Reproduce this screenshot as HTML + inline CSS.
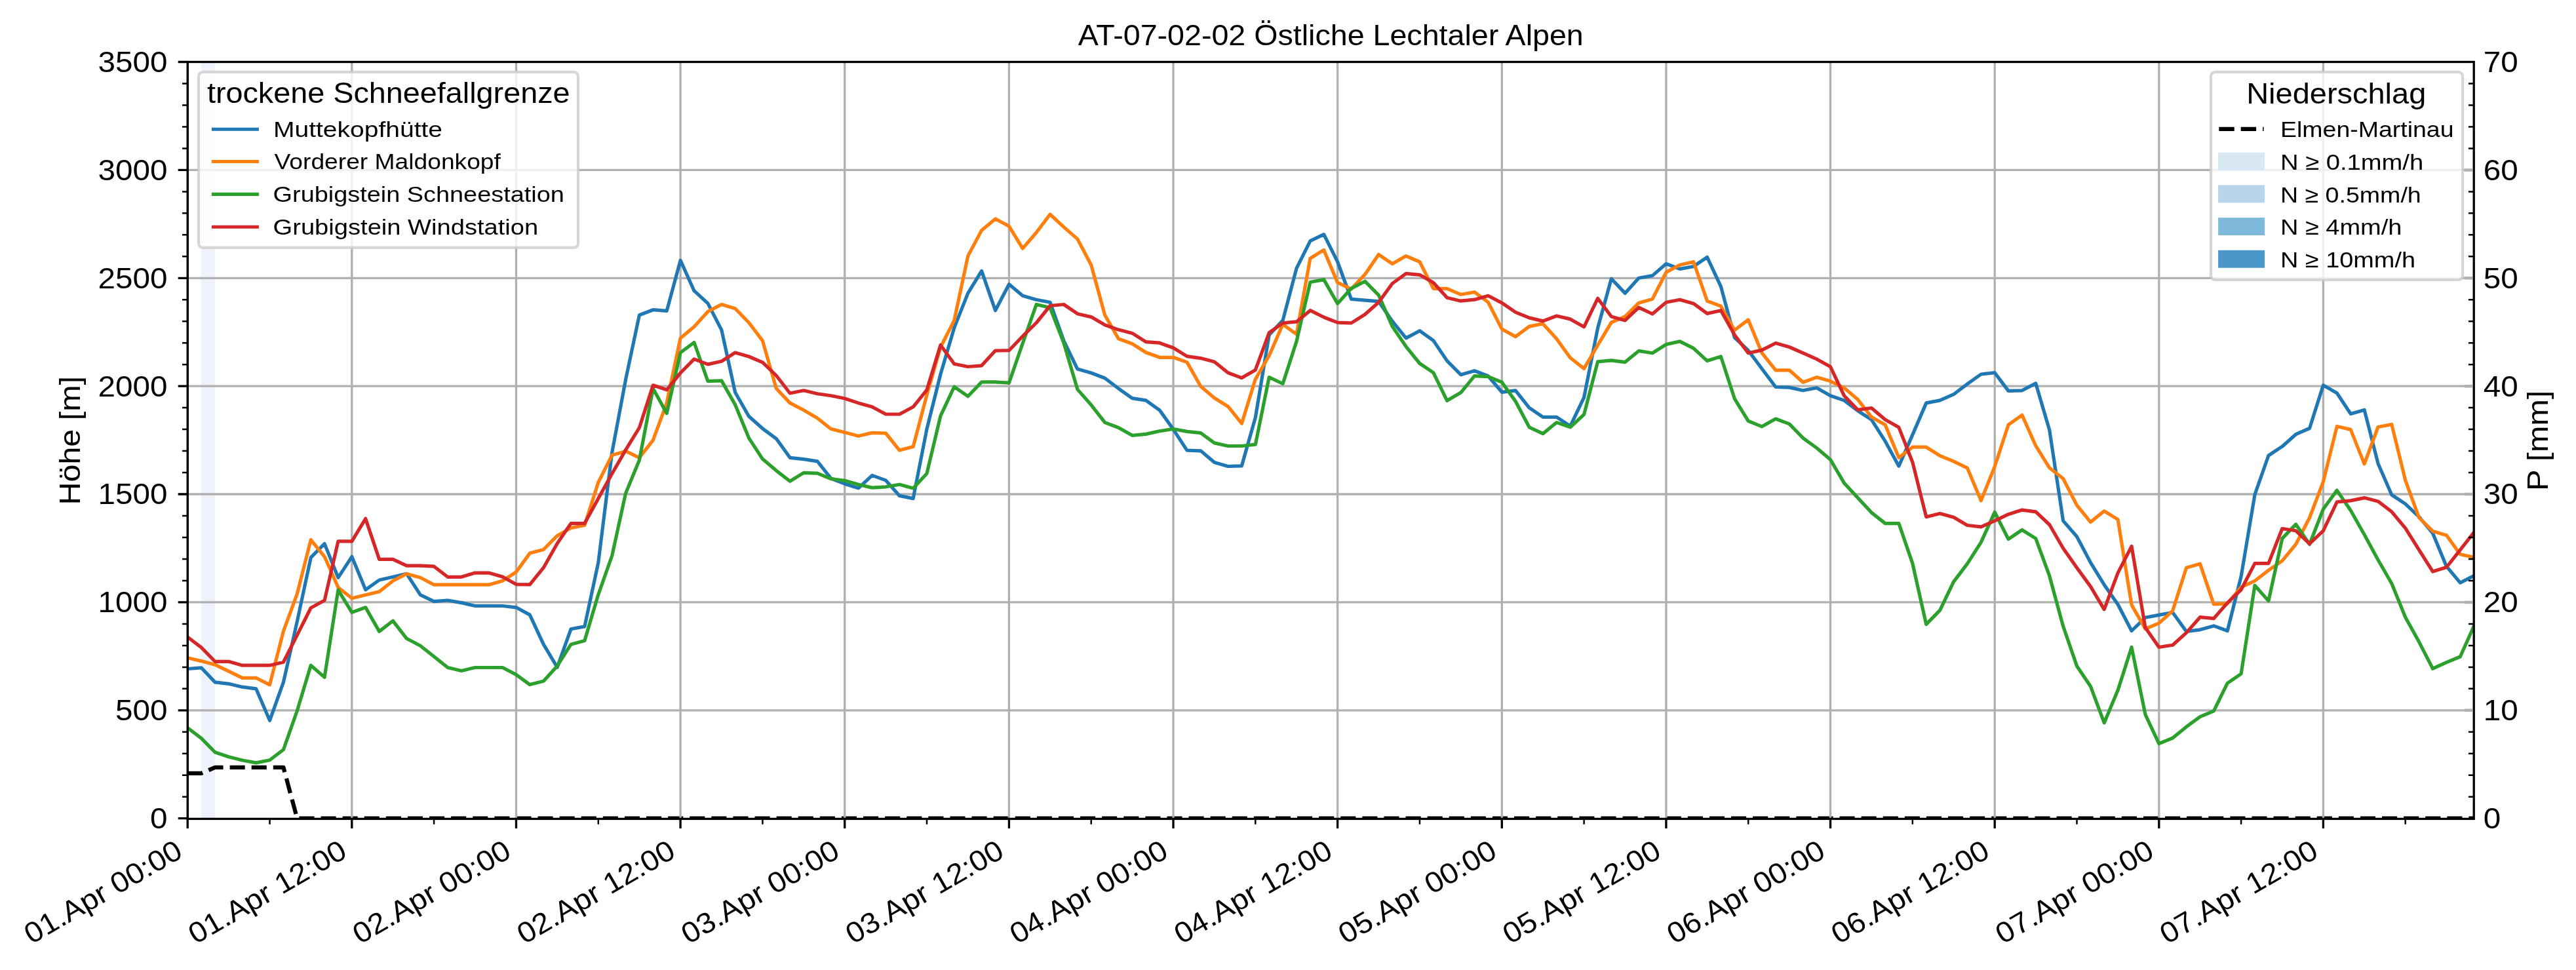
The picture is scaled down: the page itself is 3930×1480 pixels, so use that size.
<!DOCTYPE html><html><head><meta charset="utf-8"><style>html,body{margin:0;padding:0;background:#fff;overflow:hidden}svg{display:block;will-change:transform}text{font-family:"Liberation Sans", sans-serif;fill:#000}</style></head><body>
<svg width="3930" height="1480" viewBox="0 0 3930 1480">
<defs><clipPath id="ax"><rect x="286.3" y="94.5" width="3487.9" height="1154.2"/></clipPath></defs>
<rect x="0" y="0" width="3930" height="1480" fill="#fff"/>
<rect x="307.1" y="94.5" width="20.9" height="1154.2" fill="#eef3fb"/>
<path d="M286.2,1179.8 L307.1,1179.8 L328.0,1170.9 L348.9,1170.9 L369.7,1170.9 L390.6,1170.9 L411.5,1170.9 L432.4,1170.9 L453.3,1248.7 L474.2,1248.7 L495.1,1248.7 L515.9,1248.7 L536.8,1248.7 L557.7,1248.7 L578.6,1248.7 L599.5,1248.7 L620.4,1248.7 L641.3,1248.7 L662.1,1248.7 L683.0,1248.7 L703.9,1248.7 L724.8,1248.7 L745.7,1248.7 L766.6,1248.7 L787.5,1248.7 L808.3,1248.7 L829.2,1248.7 L850.1,1248.7 L871.0,1248.7 L891.9,1248.7 L912.8,1248.7 L933.7,1248.7 L954.6,1248.7 L975.4,1248.7 L996.3,1248.7 L1017.2,1248.7 L1038.1,1248.7 L1059.0,1248.7 L1079.9,1248.7 L1100.8,1248.7 L1121.6,1248.7 L1142.5,1248.7 L1163.4,1248.7 L1184.3,1248.7 L1205.2,1248.7 L1226.1,1248.7 L1247.0,1248.7 L1267.8,1248.7 L1288.7,1248.7 L1309.6,1248.7 L1330.5,1248.7 L1351.4,1248.7 L1372.3,1248.7 L1393.2,1248.7 L1414.0,1248.7 L1434.9,1248.7 L1455.8,1248.7 L1476.7,1248.7 L1497.6,1248.7 L1518.5,1248.7 L1539.4,1248.7 L1560.2,1248.7 L1581.1,1248.7 L1602.0,1248.7 L1622.9,1248.7 L1643.8,1248.7 L1664.7,1248.7 L1685.6,1248.7 L1706.4,1248.7 L1727.3,1248.7 L1748.2,1248.7 L1769.1,1248.7 L1790.0,1248.7 L1810.9,1248.7 L1831.8,1248.7 L1852.7,1248.7 L1873.5,1248.7 L1894.4,1248.7 L1915.3,1248.7 L1936.2,1248.7 L1957.1,1248.7 L1978.0,1248.7 L1998.9,1248.7 L2019.7,1248.7 L2040.6,1248.7 L2061.5,1248.7 L2082.4,1248.7 L2103.3,1248.7 L2124.2,1248.7 L2145.1,1248.7 L2165.9,1248.7 L2186.8,1248.7 L2207.7,1248.7 L2228.6,1248.7 L2249.5,1248.7 L2270.4,1248.7 L2291.3,1248.7 L2312.1,1248.7 L2333.0,1248.7 L2353.9,1248.7 L2374.8,1248.7 L2395.7,1248.7 L2416.6,1248.7 L2437.5,1248.7 L2458.3,1248.7 L2479.2,1248.7 L2500.1,1248.7 L2521.0,1248.7 L2541.9,1248.7 L2562.8,1248.7 L2583.7,1248.7 L2604.5,1248.7 L2625.4,1248.7 L2646.3,1248.7 L2667.2,1248.7 L2688.1,1248.7 L2709.0,1248.7 L2729.9,1248.7 L2750.7,1248.7 L2771.6,1248.7 L2792.5,1248.7 L2813.4,1248.7 L2834.3,1248.7 L2855.2,1248.7 L2876.1,1248.7 L2896.9,1248.7 L2917.8,1248.7 L2938.7,1248.7 L2959.6,1248.7 L2980.5,1248.7 L3001.4,1248.7 L3022.3,1248.7 L3043.2,1248.7 L3064.0,1248.7 L3084.9,1248.7 L3105.8,1248.7 L3126.7,1248.7 L3147.6,1248.7 L3168.5,1248.7 L3189.4,1248.7 L3210.2,1248.7 L3231.1,1248.7 L3252.0,1248.7 L3272.9,1248.7 L3293.8,1248.7 L3314.7,1248.7 L3335.6,1248.7 L3356.4,1248.7 L3377.3,1248.7 L3398.2,1248.7 L3419.1,1248.7 L3440.0,1248.7 L3460.9,1248.7 L3481.8,1248.7 L3502.6,1248.7 L3523.5,1248.7 L3544.4,1248.7 L3565.3,1248.7 L3586.2,1248.7 L3607.1,1248.7 L3628.0,1248.7 L3648.8,1248.7 L3669.7,1248.7 L3690.6,1248.7 L3711.5,1248.7 L3732.4,1248.7 L3753.3,1248.7 L3774.2,1248.7" stroke="#000" stroke-width="6.25" fill="none" stroke-dasharray="23.1 10" stroke-linejoin="round" clip-path="url(#ax)"/>
<path d="M286.2 94.5V1248.7M536.8 94.5V1248.7M787.5 94.5V1248.7M1038.1 94.5V1248.7M1288.7 94.5V1248.7M1539.4 94.5V1248.7M1790.0 94.5V1248.7M2040.6 94.5V1248.7M2291.3 94.5V1248.7M2541.9 94.5V1248.7M2792.5 94.5V1248.7M3043.2 94.5V1248.7M3293.8 94.5V1248.7M3544.4 94.5V1248.7M286.3 1083.8H3774.2M286.3 918.9H3774.2M286.3 754.0H3774.2M286.3 589.2H3774.2M286.3 424.3H3774.2M286.3 259.4H3774.2" stroke="#b0b0b0" stroke-width="3.33" fill="none"/>
<path d="M286.2,1020.5 L307.1,1018.8 L328.0,1040.9 L348.9,1043.3 L369.7,1048.2 L390.6,1050.8 L411.5,1099.3 L432.4,1040.9 L453.3,948.3 L474.2,850.7 L495.1,829.6 L515.9,881.3 L536.8,849.3 L557.7,899.8 L578.6,885.0 L599.5,880.3 L620.4,875.4 L641.3,907.7 L662.1,917.6 L683.0,916.0 L703.9,919.6 L724.8,924.5 L745.7,924.5 L766.6,924.5 L787.5,926.8 L808.3,938.1 L829.2,983.2 L850.1,1018.2 L871.0,959.8 L891.9,955.9 L912.8,858.3 L933.7,690.4 L954.6,578.9 L975.4,480.7 L996.3,472.7 L1017.2,474.4 L1038.1,397.2 L1059.0,443.7 L1079.9,462.9 L1100.8,503.4 L1121.6,598.7 L1142.5,635.3 L1163.4,653.8 L1184.3,669.3 L1205.2,698.3 L1226.1,700.6 L1247.0,703.9 L1267.8,730.0 L1288.7,738.2 L1309.6,744.8 L1330.5,725.4 L1351.4,732.9 L1372.3,756.4 L1393.2,760.6 L1414.0,654.5 L1434.9,571.0 L1455.8,500.1 L1476.7,447.4 L1497.6,413.4 L1518.5,473.7 L1539.4,433.8 L1560.2,451.3 L1581.1,457.2 L1602.0,461.2 L1622.9,519.9 L1643.8,563.1 L1664.7,569.0 L1685.6,577.0 L1706.4,592.8 L1727.3,607.6 L1748.2,610.9 L1769.1,625.8 L1790.0,655.1 L1810.9,687.1 L1831.8,687.8 L1852.7,705.6 L1873.5,711.5 L1894.4,710.8 L1915.3,637.0 L1936.2,511.0 L1957.1,488.9 L1978.0,409.4 L1998.9,367.6 L2019.7,357.7 L2040.6,399.5 L2061.5,456.3 L2082.4,458.2 L2103.3,459.9 L2124.2,490.2 L2145.1,515.9 L2165.9,504.7 L2186.8,519.6 L2207.7,550.6 L2228.6,571.7 L2249.5,565.7 L2270.4,573.7 L2291.3,598.4 L2312.1,595.8 L2333.0,622.1 L2353.9,636.3 L2374.8,636.3 L2395.7,650.2 L2416.6,606.3 L2437.5,500.8 L2458.3,425.3 L2479.2,447.4 L2500.1,424.3 L2521.0,420.6 L2541.9,402.5 L2562.8,410.4 L2583.7,406.5 L2604.5,392.3 L2625.4,437.1 L2646.3,515.0 L2667.2,534.7 L2688.1,562.8 L2709.0,590.5 L2729.9,591.1 L2750.7,595.8 L2771.6,591.8 L2792.5,603.7 L2813.4,610.9 L2834.3,626.8 L2855.2,640.3 L2876.1,673.2 L2896.9,711.2 L2917.8,663.4 L2938.7,614.9 L2959.6,610.9 L2980.5,601.7 L3001.4,585.9 L3022.3,571.0 L3043.2,568.7 L3064.0,596.4 L3084.9,595.8 L3105.8,584.9 L3126.7,656.1 L3147.6,794.6 L3168.5,818.7 L3189.4,858.3 L3210.2,892.2 L3231.1,922.2 L3252.0,962.5 L3272.9,942.3 L3293.8,938.4 L3314.7,934.4 L3335.6,963.4 L3356.4,960.8 L3377.3,954.9 L3398.2,962.5 L3419.1,879.4 L3440.0,754.7 L3460.9,695.0 L3481.8,681.2 L3502.6,662.7 L3523.5,653.5 L3544.4,587.8 L3565.3,599.7 L3586.2,631.4 L3607.1,625.4 L3628.0,707.2 L3648.8,755.0 L3669.7,768.9 L3690.6,788.7 L3711.5,813.7 L3732.4,864.2 L3753.3,889.2 L3774.2,878.4" stroke="#1f77b4" stroke-width="5.2" fill="none" stroke-linejoin="round" stroke-linecap="square" clip-path="url(#ax)"/>
<path d="M286.2,1003.7 L307.1,1008.6 L328.0,1014.2 L348.9,1024.1 L369.7,1034.3 L390.6,1034.3 L411.5,1044.9 L432.4,963.1 L453.3,906.1 L474.2,823.6 L495.1,849.3 L515.9,896.2 L536.8,912.7 L557.7,907.7 L578.6,902.8 L599.5,886.3 L620.4,875.4 L641.3,881.3 L662.1,892.2 L683.0,892.2 L703.9,892.2 L724.8,892.2 L745.7,892.2 L766.6,886.3 L787.5,872.8 L808.3,844.1 L829.2,838.5 L850.1,817.4 L871.0,805.5 L891.9,801.5 L912.8,735.9 L933.7,694.4 L954.6,688.4 L975.4,698.3 L996.3,671.6 L1017.2,614.9 L1038.1,515.9 L1059.0,498.5 L1079.9,475.4 L1100.8,464.5 L1121.6,470.8 L1142.5,492.2 L1163.4,519.9 L1184.3,592.8 L1205.2,614.9 L1226.1,625.8 L1247.0,638.0 L1267.8,654.5 L1288.7,659.7 L1309.6,665.3 L1330.5,660.4 L1351.4,661.0 L1372.3,687.1 L1393.2,681.5 L1414.0,602.7 L1434.9,529.8 L1455.8,488.9 L1476.7,390.6 L1497.6,351.4 L1518.5,333.9 L1539.4,345.1 L1560.2,379.1 L1581.1,354.7 L1602.0,327.0 L1622.9,346.4 L1643.8,364.6 L1664.7,404.2 L1685.6,480.7 L1706.4,516.9 L1727.3,524.5 L1748.2,537.7 L1769.1,545.3 L1790.0,545.3 L1810.9,552.6 L1831.8,589.5 L1852.7,607.3 L1873.5,620.2 L1894.4,646.2 L1915.3,578.6 L1936.2,542.7 L1957.1,494.8 L1978.0,510.0 L1998.9,394.3 L2019.7,381.4 L2040.6,431.2 L2061.5,441.1 L2082.4,418.7 L2103.3,388.3 L2124.2,402.5 L2145.1,390.6 L2165.9,399.5 L2186.8,440.4 L2207.7,440.4 L2228.6,449.3 L2249.5,445.7 L2270.4,461.2 L2291.3,502.1 L2312.1,513.6 L2333.0,498.1 L2353.9,493.9 L2374.8,516.9 L2395.7,546.0 L2416.6,562.4 L2437.5,526.8 L2458.3,491.9 L2479.2,483.0 L2500.1,462.2 L2521.0,456.3 L2541.9,415.4 L2562.8,404.2 L2583.7,399.5 L2604.5,459.2 L2625.4,467.1 L2646.3,503.7 L2667.2,487.9 L2688.1,538.7 L2709.0,564.8 L2729.9,564.8 L2750.7,583.2 L2771.6,575.6 L2792.5,581.6 L2813.4,591.8 L2834.3,609.6 L2855.2,636.3 L2876.1,648.2 L2896.9,698.3 L2917.8,682.2 L2938.7,682.2 L2959.6,695.3 L2980.5,703.9 L3001.4,714.1 L3022.3,763.9 L3043.2,711.8 L3064.0,648.2 L3084.9,633.3 L3105.8,680.2 L3126.7,713.8 L3147.6,730.3 L3168.5,770.9 L3189.4,796.6 L3210.2,779.8 L3231.1,792.6 L3252.0,922.9 L3272.9,959.5 L3293.8,950.9 L3314.7,931.8 L3335.6,866.2 L3356.4,860.2 L3377.3,921.9 L3398.2,920.9 L3419.1,895.8 L3440.0,886.3 L3460.9,870.1 L3481.8,855.6 L3502.6,830.5 L3523.5,790.0 L3544.4,734.9 L3565.3,650.5 L3586.2,655.4 L3607.1,707.9 L3628.0,651.5 L3648.8,647.5 L3669.7,732.9 L3690.6,790.0 L3711.5,810.4 L3732.4,816.7 L3753.3,845.7 L3774.2,850.3" stroke="#ff7f0e" stroke-width="5.2" fill="none" stroke-linejoin="round" stroke-linecap="square" clip-path="url(#ax)"/>
<path d="M286.2,1110.5 L307.1,1126.4 L328.0,1147.8 L348.9,1154.7 L369.7,1160.0 L390.6,1163.9 L411.5,1159.7 L432.4,1143.8 L453.3,1084.5 L474.2,1015.2 L495.1,1033.4 L515.9,900.1 L536.8,934.4 L557.7,926.8 L578.6,963.4 L599.5,947.3 L620.4,974.3 L641.3,985.2 L662.1,1001.7 L683.0,1018.5 L703.9,1023.5 L724.8,1018.5 L745.7,1018.5 L766.6,1018.5 L787.5,1029.4 L808.3,1044.6 L829.2,1039.3 L850.1,1016.2 L871.0,983.2 L891.9,977.6 L912.8,907.1 L933.7,848.0 L954.6,752.4 L975.4,701.9 L996.3,592.8 L1017.2,630.7 L1038.1,538.0 L1059.0,522.5 L1079.9,581.6 L1100.8,580.9 L1121.6,617.5 L1142.5,668.3 L1163.4,700.3 L1184.3,718.1 L1205.2,734.3 L1226.1,721.4 L1247.0,722.1 L1267.8,730.6 L1288.7,733.3 L1309.6,739.2 L1330.5,744.1 L1351.4,742.8 L1372.3,739.2 L1393.2,745.1 L1414.0,722.4 L1434.9,634.7 L1455.8,590.1 L1476.7,604.7 L1497.6,582.9 L1518.5,582.9 L1539.4,584.2 L1560.2,523.9 L1581.1,464.5 L1602.0,469.5 L1622.9,523.2 L1643.8,594.1 L1664.7,617.8 L1685.6,644.6 L1706.4,652.5 L1727.3,664.3 L1748.2,662.4 L1769.1,657.7 L1790.0,654.5 L1810.9,658.4 L1831.8,660.7 L1852.7,675.9 L1873.5,680.5 L1894.4,680.5 L1915.3,678.2 L1936.2,575.6 L1957.1,585.5 L1978.0,520.9 L1998.9,430.5 L2019.7,426.6 L2040.6,463.2 L2061.5,440.1 L2082.4,429.2 L2103.3,450.3 L2124.2,498.1 L2145.1,528.8 L2165.9,554.5 L2186.8,568.7 L2207.7,611.3 L2228.6,599.1 L2249.5,573.7 L2270.4,574.6 L2291.3,583.2 L2312.1,612.2 L2333.0,651.8 L2353.9,661.7 L2374.8,644.6 L2395.7,651.8 L2416.6,632.4 L2437.5,551.9 L2458.3,549.9 L2479.2,552.6 L2500.1,535.4 L2521.0,538.7 L2541.9,525.5 L2562.8,520.9 L2583.7,531.4 L2604.5,550.6 L2625.4,544.0 L2646.3,608.3 L2667.2,642.3 L2688.1,650.8 L2709.0,639.0 L2729.9,646.9 L2750.7,668.3 L2771.6,683.5 L2792.5,701.3 L2813.4,736.9 L2834.3,759.6 L2855.2,782.1 L2876.1,798.6 L2896.9,798.6 L2917.8,859.6 L2938.7,952.6 L2959.6,931.1 L2980.5,887.6 L3001.4,860.2 L3022.3,827.3 L3043.2,781.4 L3064.0,822.6 L3084.9,808.5 L3105.8,821.6 L3126.7,878.7 L3147.6,955.5 L3168.5,1016.2 L3189.4,1047.2 L3210.2,1102.9 L3231.1,1053.1 L3252.0,987.5 L3272.9,1090.1 L3293.8,1134.6 L3314.7,1126.0 L3335.6,1108.9 L3356.4,1093.7 L3377.3,1084.8 L3398.2,1042.3 L3419.1,1028.1 L3440.0,893.2 L3460.9,916.9 L3481.8,821.6 L3502.6,799.9 L3523.5,830.5 L3544.4,776.8 L3565.3,748.1 L3586.2,778.8 L3607.1,815.7 L3628.0,854.3 L3648.8,890.2 L3669.7,941.7 L3690.6,979.6 L3711.5,1020.2 L3732.4,1010.6 L3753.3,1002.0 L3774.2,955.5" stroke="#2ca02c" stroke-width="5.2" fill="none" stroke-linejoin="round" stroke-linecap="square" clip-path="url(#ax)"/>
<path d="M286.2,972.0 L307.1,987.9 L328.0,1009.3 L348.9,1009.3 L369.7,1015.2 L390.6,1015.2 L411.5,1015.2 L432.4,1010.3 L453.3,969.1 L474.2,927.5 L495.1,916.0 L515.9,825.9 L536.8,825.9 L557.7,791.3 L578.6,853.3 L599.5,853.3 L620.4,863.2 L641.3,863.2 L662.1,864.2 L683.0,880.3 L703.9,880.3 L724.8,874.1 L745.7,874.1 L766.6,880.0 L787.5,891.6 L808.3,891.9 L829.2,866.2 L850.1,829.2 L871.0,798.6 L891.9,798.6 L912.8,760.6 L933.7,722.7 L954.6,686.4 L975.4,652.5 L996.3,587.8 L1017.2,594.8 L1038.1,569.0 L1059.0,547.9 L1079.9,555.9 L1100.8,551.2 L1121.6,538.0 L1142.5,544.0 L1163.4,552.9 L1184.3,573.0 L1205.2,600.0 L1226.1,595.8 L1247.0,600.7 L1267.8,603.7 L1288.7,608.0 L1309.6,614.9 L1330.5,620.8 L1351.4,632.0 L1372.3,632.0 L1393.2,620.8 L1414.0,594.8 L1434.9,526.5 L1455.8,555.2 L1476.7,559.5 L1497.6,557.8 L1518.5,535.1 L1539.4,534.7 L1560.2,513.0 L1581.1,492.5 L1602.0,466.5 L1622.9,464.5 L1643.8,478.7 L1664.7,483.6 L1685.6,495.8 L1706.4,503.1 L1727.3,508.4 L1748.2,521.6 L1769.1,523.2 L1790.0,530.8 L1810.9,543.6 L1831.8,546.6 L1852.7,551.9 L1873.5,568.7 L1894.4,576.6 L1915.3,564.4 L1936.2,507.7 L1957.1,492.9 L1978.0,490.9 L1998.9,473.7 L2019.7,484.0 L2040.6,492.2 L2061.5,492.9 L2082.4,479.7 L2103.3,461.2 L2124.2,432.5 L2145.1,417.3 L2165.9,419.3 L2186.8,431.2 L2207.7,454.3 L2228.6,459.2 L2249.5,457.2 L2270.4,451.3 L2291.3,462.2 L2312.1,476.4 L2333.0,484.9 L2353.9,489.9 L2374.8,482.0 L2395.7,486.9 L2416.6,498.8 L2437.5,455.3 L2458.3,483.0 L2479.2,488.9 L2500.1,469.1 L2521.0,479.0 L2541.9,461.2 L2562.8,457.2 L2583.7,463.2 L2604.5,478.4 L2625.4,473.7 L2646.3,511.0 L2667.2,538.7 L2688.1,534.1 L2709.0,523.5 L2729.9,529.5 L2750.7,538.7 L2771.6,547.9 L2792.5,559.5 L2813.4,603.7 L2834.3,625.4 L2855.2,622.5 L2876.1,640.3 L2896.9,652.1 L2917.8,705.2 L2938.7,788.7 L2959.6,783.4 L2980.5,789.3 L3001.4,801.5 L3022.3,803.8 L3043.2,794.6 L3064.0,784.7 L3084.9,778.1 L3105.8,780.8 L3126.7,800.5 L3147.6,836.5 L3168.5,866.2 L3189.4,894.9 L3210.2,929.8 L3231.1,874.1 L3252.0,833.5 L3272.9,957.5 L3293.8,987.5 L3314.7,984.2 L3335.6,965.4 L3356.4,941.7 L3377.3,943.7 L3398.2,919.9 L3419.1,899.8 L3440.0,859.6 L3460.9,859.6 L3481.8,806.5 L3502.6,809.8 L3523.5,829.6 L3544.4,809.8 L3565.3,765.9 L3586.2,763.9 L3607.1,759.6 L3628.0,764.9 L3648.8,780.8 L3669.7,805.8 L3690.6,839.1 L3711.5,872.1 L3732.4,865.5 L3753.3,839.1 L3774.2,812.4" stroke="#d62728" stroke-width="5.2" fill="none" stroke-linejoin="round" stroke-linecap="square" clip-path="url(#ax)"/>
<rect x="286.3" y="94.5" width="3487.9" height="1154.9" fill="none" stroke="#000" stroke-width="3.33" stroke-linejoin="miter"/>
<path d="M271.7 1248.7H286.3M271.7 1083.8H286.3M271.7 918.9H286.3M271.7 754.0H286.3M271.7 589.2H286.3M271.7 424.3H286.3M271.7 259.4H286.3M271.7 94.5H286.3M286.2 1249.4V1264.0M536.8 1249.4V1264.0M787.5 1249.4V1264.0M1038.1 1249.4V1264.0M1288.7 1249.4V1264.0M1539.4 1249.4V1264.0M1790.0 1249.4V1264.0M2040.6 1249.4V1264.0M2291.3 1249.4V1264.0M2541.9 1249.4V1264.0M2792.5 1249.4V1264.0M3043.2 1249.4V1264.0M3293.8 1249.4V1264.0M3544.4 1249.4V1264.0" stroke="#000" stroke-width="3.33" fill="none"/>
<path d="M278.0 1215.7H286.3M278.0 1182.7H286.3M278.0 1149.8H286.3M278.0 1116.8H286.3M278.0 1050.8H286.3M278.0 1017.9H286.3M278.0 984.9H286.3M278.0 951.9H286.3M278.0 886.0H286.3M278.0 853.0H286.3M278.0 820.0H286.3M278.0 787.0H286.3M278.0 721.1H286.3M278.0 688.1H286.3M278.0 655.1H286.3M278.0 622.1H286.3M278.0 556.2H286.3M278.0 523.2H286.3M278.0 490.2H286.3M278.0 457.2H286.3M278.0 391.3H286.3M278.0 358.3H286.3M278.0 325.3H286.3M278.0 292.4H286.3M278.0 226.4H286.3M278.0 193.4H286.3M278.0 160.5H286.3M278.0 127.5H286.3M411.5 1249.4V1257.7M662.1 1249.4V1257.7M912.8 1249.4V1257.7M1163.4 1249.4V1257.7M1414.0 1249.4V1257.7M1664.7 1249.4V1257.7M1915.3 1249.4V1257.7M2165.9 1249.4V1257.7M2416.6 1249.4V1257.7M2667.2 1249.4V1257.7M2917.8 1249.4V1257.7M3168.5 1249.4V1257.7M3419.1 1249.4V1257.7M3669.7 1249.4V1257.7M3765.9 1215.7H3774.2M3765.9 1182.7H3774.2M3765.9 1149.8H3774.2M3765.9 1116.8H3774.2M3765.9 1050.8H3774.2M3765.9 1017.9H3774.2M3765.9 984.9H3774.2M3765.9 951.9H3774.2M3765.9 886.0H3774.2M3765.9 853.0H3774.2M3765.9 820.0H3774.2M3765.9 787.0H3774.2M3765.9 721.1H3774.2M3765.9 688.1H3774.2M3765.9 655.1H3774.2M3765.9 622.1H3774.2M3765.9 556.2H3774.2M3765.9 523.2H3774.2M3765.9 490.2H3774.2M3765.9 457.2H3774.2M3765.9 391.3H3774.2M3765.9 358.3H3774.2M3765.9 325.3H3774.2M3765.9 292.4H3774.2M3765.9 226.4H3774.2M3765.9 193.4H3774.2M3765.9 160.5H3774.2M3765.9 127.5H3774.2" stroke="#000" stroke-width="2.5" fill="none"/>
<path d="M3759.6 1083.8H3772.6M3759.6 918.9H3772.6M3759.6 754.0H3772.6M3759.6 589.2H3772.6M3759.6 424.3H3772.6M3759.6 259.4H3772.6" stroke="#b0b0b0" stroke-width="4.5" fill="none"/>
<text x="255.6" y="1264.1" font-size="44.2" text-anchor="end" textLength="26.5" lengthAdjust="spacingAndGlyphs">0</text>
<text x="255.6" y="1099.2" font-size="44.2" text-anchor="end" textLength="79.5" lengthAdjust="spacingAndGlyphs">500</text>
<text x="255.6" y="934.3" font-size="44.2" text-anchor="end" textLength="106.0" lengthAdjust="spacingAndGlyphs">1000</text>
<text x="255.6" y="769.4" font-size="44.2" text-anchor="end" textLength="106.0" lengthAdjust="spacingAndGlyphs">1500</text>
<text x="255.6" y="604.6" font-size="44.2" text-anchor="end" textLength="106.0" lengthAdjust="spacingAndGlyphs">2000</text>
<text x="255.6" y="439.7" font-size="44.2" text-anchor="end" textLength="106.0" lengthAdjust="spacingAndGlyphs">2500</text>
<text x="255.6" y="274.8" font-size="44.2" text-anchor="end" textLength="106.0" lengthAdjust="spacingAndGlyphs">3000</text>
<text x="255.6" y="109.9" font-size="44.2" text-anchor="end" textLength="106.0" lengthAdjust="spacingAndGlyphs">3500</text>
<text x="3788.8" y="1264.1" font-size="44.2" textLength="26.5" lengthAdjust="spacingAndGlyphs">0</text>
<text x="3788.8" y="1099.2" font-size="44.2" textLength="53.0" lengthAdjust="spacingAndGlyphs">10</text>
<text x="3788.8" y="934.3" font-size="44.2" textLength="53.0" lengthAdjust="spacingAndGlyphs">20</text>
<text x="3788.8" y="769.4" font-size="44.2" textLength="53.0" lengthAdjust="spacingAndGlyphs">30</text>
<text x="3788.8" y="604.6" font-size="44.2" textLength="53.0" lengthAdjust="spacingAndGlyphs">40</text>
<text x="3788.8" y="439.7" font-size="44.2" textLength="53.0" lengthAdjust="spacingAndGlyphs">50</text>
<text x="3788.8" y="274.8" font-size="44.2" textLength="53.0" lengthAdjust="spacingAndGlyphs">60</text>
<text x="3788.8" y="109.9" font-size="44.2" textLength="53.0" lengthAdjust="spacingAndGlyphs">70</text>
<text transform="translate(281.2,1306.5) rotate(-30)" font-size="44.2" text-anchor="end" textLength="269.3" lengthAdjust="spacingAndGlyphs">01.Apr 00:00</text>
<text transform="translate(531.8,1306.5) rotate(-30)" font-size="44.2" text-anchor="end" textLength="269.3" lengthAdjust="spacingAndGlyphs">01.Apr 12:00</text>
<text transform="translate(782.5,1306.5) rotate(-30)" font-size="44.2" text-anchor="end" textLength="269.3" lengthAdjust="spacingAndGlyphs">02.Apr 00:00</text>
<text transform="translate(1033.1,1306.5) rotate(-30)" font-size="44.2" text-anchor="end" textLength="269.3" lengthAdjust="spacingAndGlyphs">02.Apr 12:00</text>
<text transform="translate(1283.7,1306.5) rotate(-30)" font-size="44.2" text-anchor="end" textLength="269.3" lengthAdjust="spacingAndGlyphs">03.Apr 00:00</text>
<text transform="translate(1534.4,1306.5) rotate(-30)" font-size="44.2" text-anchor="end" textLength="269.3" lengthAdjust="spacingAndGlyphs">03.Apr 12:00</text>
<text transform="translate(1785.0,1306.5) rotate(-30)" font-size="44.2" text-anchor="end" textLength="269.3" lengthAdjust="spacingAndGlyphs">04.Apr 00:00</text>
<text transform="translate(2035.6,1306.5) rotate(-30)" font-size="44.2" text-anchor="end" textLength="269.3" lengthAdjust="spacingAndGlyphs">04.Apr 12:00</text>
<text transform="translate(2286.3,1306.5) rotate(-30)" font-size="44.2" text-anchor="end" textLength="269.3" lengthAdjust="spacingAndGlyphs">05.Apr 00:00</text>
<text transform="translate(2536.9,1306.5) rotate(-30)" font-size="44.2" text-anchor="end" textLength="269.3" lengthAdjust="spacingAndGlyphs">05.Apr 12:00</text>
<text transform="translate(2787.5,1306.5) rotate(-30)" font-size="44.2" text-anchor="end" textLength="269.3" lengthAdjust="spacingAndGlyphs">06.Apr 00:00</text>
<text transform="translate(3038.2,1306.5) rotate(-30)" font-size="44.2" text-anchor="end" textLength="269.3" lengthAdjust="spacingAndGlyphs">06.Apr 12:00</text>
<text transform="translate(3288.8,1306.5) rotate(-30)" font-size="44.2" text-anchor="end" textLength="269.3" lengthAdjust="spacingAndGlyphs">07.Apr 00:00</text>
<text transform="translate(3539.4,1306.5) rotate(-30)" font-size="44.2" text-anchor="end" textLength="269.3" lengthAdjust="spacingAndGlyphs">07.Apr 12:00</text>
<text x="1644.7" y="68.9" font-size="44.2" textLength="771.1" lengthAdjust="spacingAndGlyphs">AT-07-02-02 Östliche Lechtaler Alpen</text>
<text transform="translate(122.4,770.5) rotate(-90)" font-size="44.2" textLength="196.5" lengthAdjust="spacingAndGlyphs">Höhe [m]</text>
<text transform="translate(3887.4,749.1) rotate(-90)" font-size="44.2" textLength="153.5" lengthAdjust="spacingAndGlyphs">P [mm]</text>
<rect x="303" y="109.9" width="579" height="268" rx="6.5" ry="6.5" fill="#fff" fill-opacity="0.8" stroke="#cccccc" stroke-opacity="0.8" stroke-width="4.17"/>
<text x="315.9" y="156.8" font-size="44.2" textLength="553.7" lengthAdjust="spacingAndGlyphs">trockene Schneefallgrenze</text>
<path d="M322.9 197.3H394.9" stroke="#1f77b4" stroke-width="5.1" fill="none"/>
<text x="417.0" y="209.1" font-size="34.0" textLength="258.0" lengthAdjust="spacingAndGlyphs">Muttekopfhütte</text>
<path d="M322.9 246.5H394.9" stroke="#ff7f0e" stroke-width="5.1" fill="none"/>
<text x="418.6" y="257.5" font-size="34.0" textLength="345.3" lengthAdjust="spacingAndGlyphs">Vorderer Maldonkopf</text>
<path d="M322.9 296.4H394.9" stroke="#2ca02c" stroke-width="5.1" fill="none"/>
<text x="416.6" y="307.8" font-size="34.0" textLength="444.2" lengthAdjust="spacingAndGlyphs">Grubigstein Schneestation</text>
<path d="M322.9 346.3H394.9" stroke="#d62728" stroke-width="5.1" fill="none"/>
<text x="416.6" y="357.7" font-size="34.0" textLength="404.6" lengthAdjust="spacingAndGlyphs">Grubigstein Windstation</text>
<rect x="3373" y="109.9" width="384.1" height="317.1" rx="6.5" ry="6.5" fill="#fff" fill-opacity="0.8" stroke="#cccccc" stroke-opacity="0.8" stroke-width="4.17"/>
<text x="3427.2" y="157.9" font-size="44.2" textLength="274.1" lengthAdjust="spacingAndGlyphs">Niederschlag</text>
<path d="M3385.3 196.8H3453.6" stroke="#000" stroke-width="6.25" stroke-dasharray="23.4 10" fill="none"/>
<text x="3479" y="209.1" font-size="34.0" textLength="264.5" lengthAdjust="spacingAndGlyphs">Elmen-Martinau</text>
<rect x="3384.1" y="232.7" width="71" height="26.9" fill="#d9e8f5"/>
<text x="3479" y="258.8" font-size="34.0" textLength="218.2" lengthAdjust="spacingAndGlyphs">N ≥ 0.1mm/h</text>
<rect x="3384.1" y="282.4" width="71" height="26.9" fill="#b7d4ea"/>
<text x="3479" y="308.5" font-size="34.0" textLength="214.7" lengthAdjust="spacingAndGlyphs">N ≥ 0.5mm/h</text>
<rect x="3384.1" y="332.1" width="71" height="26.9" fill="#7fb9da"/>
<text x="3479" y="358.2" font-size="34.0" textLength="185.4" lengthAdjust="spacingAndGlyphs">N ≥ 4mm/h</text>
<rect x="3384.1" y="381.8" width="71" height="26.9" fill="#4a98c9"/>
<text x="3479" y="407.9" font-size="34.0" textLength="206.0" lengthAdjust="spacingAndGlyphs">N ≥ 10mm/h</text>
</svg></body></html>
